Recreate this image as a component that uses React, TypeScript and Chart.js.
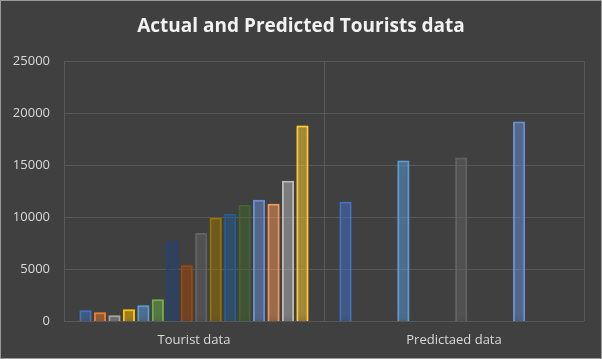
import React, { useEffect, useRef } from "react";
import { Chart, registerables } from "chart.js";

Chart.register(...registerables);

const categories = ["Tourist data", "Predictaed data"];
const touristValues = [1060, 870, 580, 1160, 1540, 2120, 7650, 5400, 8490, 9940, 10330, 11200, 11680, 11300, 13500, 18800];
const predictedValues: (number | null)[] = [11480, null, null, null, 15440, null, null, null, 15730, null, null, null, 19200, null, null, null];
const seriesColors = [
  "#4472C4", "#ED7D31", "#A5A5A5", "#FFC000", "#5B9BD5", "#70AD47",
  "#264478", "#9E480E", "#636363", "#997300", "#255E91", "#43682B",
  "#698ED0", "#F1975A", "#B7B7B7", "#FFCD33",
];
const yTicks = [0, 5000, 10000, 15000, 20000, 25000];
const titleText = "Actual and Predicted Tourists data";

function hexA(hex: string, a: number) {
  const n = parseInt(hex.slice(1), 16);
  return `rgba(${(n >> 16) & 255},${(n >> 8) & 255},${n & 255},${a})`;
}

const bgPlugin = {
  id: "bgPlugin",
  beforeDraw(chart: any) {
    const { ctx, width, height } = chart;
    ctx.save();
    ctx.fillStyle = "#404040";
    ctx.fillRect(0, 0, width, height);
    ctx.strokeStyle = "#9a9a9a";
    ctx.lineWidth = 1;
    ctx.strokeRect(0.5, 0.5, width - 1, height - 1);
    ctx.fillStyle = "#f2f2f2";
    ctx.font = "bold 19px 'Open Sans', 'Noto Sans', sans-serif";
    ctx.textAlign = "center";
    ctx.textBaseline = "middle";
    ctx.fillText(titleText, width / 2, 27);
    ctx.restore();
  },
};

const glowPlugin = {
  id: "glowPlugin",
  beforeDatasetDraw(chart: any, args: any) {
    const ctx = chart.ctx;
    ctx.save();
    const c = seriesColors[args.index % seriesColors.length];
    ctx.shadowColor = hexA(c, 0.9);
    ctx.shadowBlur = 10;
  },
  afterDatasetDraw(chart: any) {
    chart.ctx.restore();
  },
};

export default function App() {
  const ref = useRef<HTMLCanvasElement>(null);
  useEffect(() => {
    if (!ref.current) return;
    const datasets = touristValues.map((v, i) => ({
      label: `Series ${i + 1}`,
      data: [v, predictedValues[i]],
      backgroundColor: hexA(seriesColors[i], 0.3),
      borderColor: seriesColors[i],
      borderWidth: 2,
      barPercentage: 0.84,
      categoryPercentage: 0.89,
    }));
    const font = { family: "'Open Sans', 'Noto Sans', sans-serif", size: 13 };
    const chart = new Chart(ref.current, {
      type: "bar",
      data: { labels: categories, datasets },
      plugins: [bgPlugin, glowPlugin],
      options: {
        responsive: false,
        animation: false,
        layout: { padding: { left: 0, right: 18, top: 61, bottom: 0 } },
        plugins: {
          legend: { display: false },
          tooltip: { enabled: false },
          title: { display: false },
        },
        scales: {
          x: {
            offset: true,
            grid: { display: true, offset: true, color: "#585858", lineWidth: 1, drawTicks: false },
            border: { display: false },
            ticks: { color: "#d9d9d9", font, padding: 11 },
          },
          y: {
            min: 0,
            max: 25000,
            afterBuildTicks: (scale: any) => {
              scale.ticks = yTicks.map((v) => ({ value: v }));
            },
            afterFit: (scale: any) => {
              scale.width = 64;
            },
            grid: { color: "#585858", lineWidth: 1, drawTicks: false },
            border: { display: false },
            ticks: { color: "#d9d9d9", font, padding: 14, callback: (v: any) => String(v) },
          },
        },
      },
    } as any);
    return () => chart.destroy();
  }, []);
  return (
    <div style={{ position: "fixed", left: 0, top: 0, width: 602, height: 359 }}>
      <canvas ref={ref} width={602} height={359} style={{ display: "block" }} />
    </div>
  );
}
